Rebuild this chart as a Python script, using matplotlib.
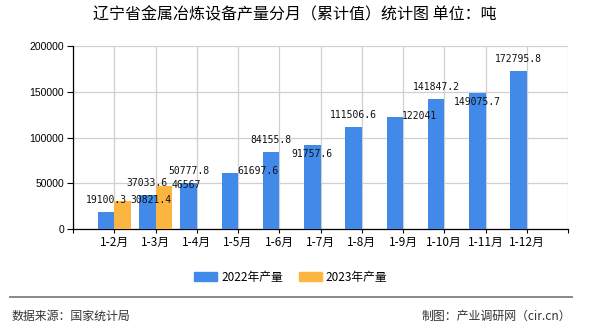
import numpy as np
import matplotlib
matplotlib.use("Agg")
import matplotlib.pyplot as plt
from matplotlib.patches import Patch

plt.rcParams['font.family'] = ['Noto Sans CJK SC', 'DejaVu Sans']

# Monthly cumulative output (tons)
months = ["1-2月", "1-3月", "1-4月", "1-5月", "1-6月", "1-7月",
          "1-8月", "1-9月", "1-10月", "1-11月", "1-12月"]
output_2022 = [19100.3, 37033.6, 50777.8, 61697.6, 84155.8, 91757.6,
               111506.6, 122041, 141847.2, 149075.7, 172795.8]
output_2023 = [30821.4, 46567]

# where each value label sits relative to its bar
pos_2022 = ['top', 'top', 'top', 'right', 'top', 'inside',
            'top', 'right', 'top', 'inside', 'top']
pos_2023 = ['right', 'right']

blue = "#418AEA"
orange = "#FBB540"
bar_w = 0.4

fig = plt.figure(figsize=(5.9, 3.3), dpi=100)
ax = fig.add_axes([73 / 590, 1 - 229 / 330, (568 - 73) / 590, (229 - 46) / 330])

x22 = np.arange(1, len(output_2022) + 1)
x23 = np.arange(1, len(output_2023) + 1)
b22 = ax.bar(x22 - bar_w, output_2022, width=bar_w, align='edge', color=blue, zorder=3)
b23 = ax.bar(x23, output_2023, width=bar_w, align='edge', color=orange, zorder=3)


def put_labels(bars, vals, where):
    for rect, v, p in zip(bars, vals, where):
        txt = str(v)
        if txt.endswith(".0"):
            txt = txt[:-2]
        cx = rect.get_x() + rect.get_width() / 2
        if p == 'top':
            ax.annotate(txt, (cx, v), xytext=(0, 8.5), textcoords='offset points',
                        ha='center', va='center')
        elif p == 'right':
            ax.annotate(txt, (rect.get_x() + rect.get_width(), v), xytext=(-0.5, 0.8),
                        textcoords='offset points', ha='left', va='center')
        else:
            ax.annotate(txt, (cx, v), xytext=(0, -6.5), textcoords='offset points',
                        ha='center', va='center')


for bars, vals, where in [(b22, output_2022, pos_2022), (b23, output_2023, pos_2023)]:
    put_labels(bars, vals, where)

for t in ax.texts:
    t.set_family('DejaVu Sans Mono')
    t.set_fontsize(7)
    t.set_color('#111111')
    t.set_zorder(5)

ax.set_xlim(0, 12)
ax.set_ylim(0, 200000)
ax.set_yticks([0, 50000, 100000, 150000, 200000])
ax.set_yticklabels(["0", "50000", "100000", "150000", "200000"],
                   family='Liberation Sans', fontsize=7.5)
ax.set_xticks(np.arange(0, 13))
ax.set_xticklabels([""] + months + [""], fontsize=8.5)
ax.tick_params(axis='y', length=4.3, width=0.8, pad=2)
ax.tick_params(axis='x', length=3, width=0.8, pad=2)

ax.grid(True, color='#d0d0d0', linewidth=0.9, zorder=0)
ax.set_axisbelow(True)
for s in ['top', 'right']:
    ax.spines[s].set_visible(False)
for s in ['left', 'bottom']:
    ax.spines[s].set_color('black')
    ax.spines[s].set_linewidth(0.9)

fig.text(0.5, 1 - 15 / 330, "辽宁省金属冶炼设备产量分月（累计值）统计图 单位：吨",
         ha='center', va='center', fontsize=11.5, color='black')

handles = [Patch(color=blue, label="2022年产量"), Patch(color=orange, label="2023年产量")]
fig.legend(handles=handles, loc='center', bbox_to_anchor=(291 / 590, 1 - 277 / 330),
           ncol=2, frameon=False, fontsize=8.5, handlelength=1.9, handleheight=0.75,
           handletextpad=0.35, columnspacing=1.4)

fig.add_artist(plt.Line2D([10 / 590, 572 / 590], [1 - 297 / 330, 1 - 297 / 330],
                          color='#888888', linewidth=1.4, transform=fig.transFigure))
fig.text(12 / 590, 1 - 316 / 330, "数据来源：国家统计局", ha='left', va='center',
         fontsize=8.6, color='#333333')
fig.text(571 / 590, 1 - 316 / 330, "制图：产业调研网（cir.cn）", ha='right', va='center',
         fontsize=8.6, color='#333333')

fig.savefig("out.png", dpi=100)
